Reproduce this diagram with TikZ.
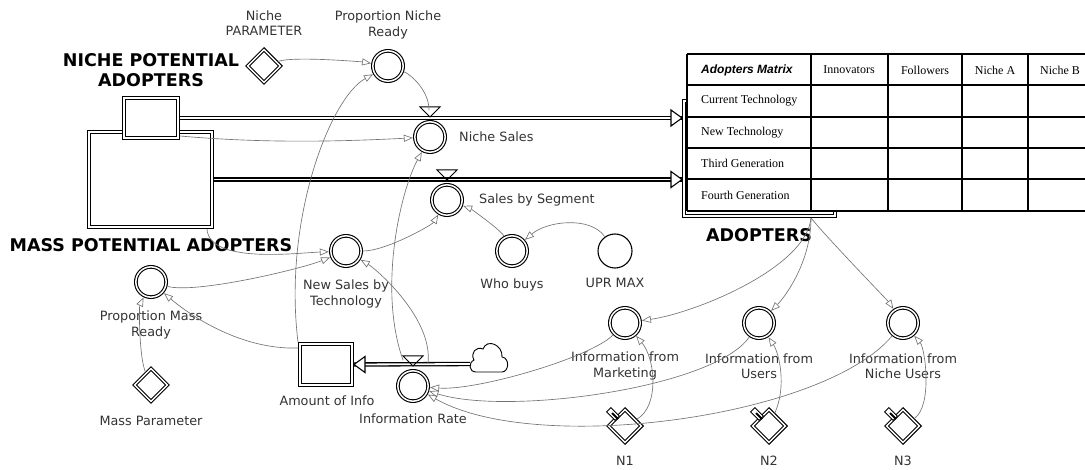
\documentclass[tikz,border=0pt]{standalone}
\usepackage{fontspec}
\setmainfont{DejaVu Sans}
\newfontfamily\tabfont{Liberation Serif}
\newfontfamily\tabhead{Liberation Sans}
\usetikzlibrary{arrows.meta,shapes.geometric,calc}

\tikzset{
  stock/.style={draw, fill=white, double, line width=1.3pt, double distance=1.8pt, inner sep=0pt, outer sep=2.2pt},
  aux/.style={circle, draw, fill=white, double, line width=1.1pt, double distance=1.5pt, minimum size=30.3pt, inner sep=0pt, outer sep=2pt},
  param/.style={diamond, draw, fill=white, double, line width=1.1pt, double distance=1.5pt, minimum size=34pt, inner sep=0pt, outer sep=1.5pt},
  lab/.style={text=black!80, font=\fontsize{12.8}{15.5}\selectfont, inner sep=0pt, align=center},
  bigtitle/.style={font=\bfseries\fontsize{17.5}{20}\selectfont, inner sep=0pt, align=center},
  cell/.style={font=\tabfont\fontsize{12}{14}\selectfont, inner sep=0pt},
  link/.style={draw=black!55, line width=0.65pt, -{Triangle[open, length=9pt, width=7pt]}},
  pipe/.style={double, line width=1.3pt, double distance=1.8pt},
  pipehead/.style={draw, fill=white, line width=1.1pt, line join=miter},
  valvetip/.style={draw, line width=1pt},
  tabline/.style={line width=1.2pt},
}

\begin{document}
\begin{tikzpicture}[x=1pt, y=-1pt]
\useasboundingbox (0,0) rectangle (1085,470);

% stocks
\node[stock, minimum width=122.6pt, minimum height=94.6pt] (massStock) at (150.5,179.5) {};
\node[stock, minimum width=53.6pt, minimum height=39.6pt] (nicheStock) at (151,118) {};
\node[stock, minimum width=150.6pt, minimum height=114.6pt] (adoptStock) at (759.5,158.5) {};
\node[stock, minimum width=51.6pt, minimum height=40.6pt] (infoStock) at (326,364.5) {};
\node[bigtitle] (nicheTitle) at (151,70) {NICHE POTENTIAL\\ADOPTERS};
\node[bigtitle] (massTitle) at (151,245) {MASS POTENTIAL ADOPTERS};
\node[bigtitle] (adoptTitle) at (759,235) {ADOPTERS};
\node[lab] (infoStockL) at (327,401) {Amount of Info};

% adopters matrix
\fill[white] (687,54) rectangle (1094,211);
\foreach \y in {54,85,117,148,179,211}
  \draw[tabline] (687,\y) -- (1094,\y);
\foreach \x in {687,811,888,962,1028,1094}
  \draw[tabline] (\x,54) -- (\x,211);
\node[cell, font=\tabhead\bfseries\itshape\fontsize{12}{14}\selectfont, anchor=west] (mtxHead) at (701,70) {Adopters Matrix};
\foreach \x/\t [count=\i] in {849/Innovators, 925/Followers, 995/Niche A, 1060/Niche B}
  \node[cell] (col\i) at (\x,70) {\t};
\foreach \y/\t [count=\i] in {101/Current Technology, 132.5/New Technology, 163.5/Third Generation, 195/Fourth Generation}
  \node[cell, anchor=west] (row\i) at (701,\y) {\t};

% flows
\coordinate (nicheIn) at (nicheStock.east -| adoptStock.west);
\coordinate (massIn) at (massStock.east -| adoptStock.west);
\coordinate (cloud) at (470,364);
\draw[pipe] (nicheStock.east) -- (nicheIn);
\draw[pipe] (massStock.east) -- (massIn);
\draw[pipe] (cloud) -- (infoStock.east);
\foreach \p in {nicheIn, massIn}
  \draw[pipehead] (\p) -- ++(-11,-8) -- ++(0,16) -- cycle;
\draw[pipehead] (infoStock.east) -- ++(11,-8) -- ++(0,16) -- cycle;
\draw[line width=0.9pt, fill=white] (476,372) -- (502,372)
  .. controls (509,372) and (510,358) .. (502,357)
  .. controls (503,345) and (487,338) .. (483,349)
  .. controls (476,346) and (470,353) .. (474,360)
  .. controls (468,363) and (469,372) .. (476,372) -- cycle;

% valves
\node[aux] (nicheSales) at (430,137) {};
\node[aux] (salesSeg) at (447,200) {};
\node[aux] (infoRate) at (413,386) {};
\foreach \v in {nicheSales, salesSeg, infoRate}
  \draw[valvetip] ($(\v)+(-10,-30)$) -- ($(\v)+(10,-30)$) -- ($(\v)+(0,-20)$) -- cycle;
\node[lab, anchor=west] (nicheSalesL) at (459,137) {Niche Sales};
\node[lab, anchor=west] (salesSegL) at (479,200) {Sales by Segment};
\node[lab] (infoRateL) at (413,419) {Information Rate};

% auxiliaries
\node[param] (nichePar) at (264,66) {};
\node[lab] (nicheParL) at (264,23) {Niche\\PARAMETER};
\node[aux] (propNiche) at (388,66) {};
\node[lab] (propNicheL) at (388,25) {Proportion Niche\\Ready};
\node[aux] (newSales) at (346,251) {};
\node[lab] (newSalesL) at (346,294) {New Sales by\\Technology};
\node[aux] (whoBuys) at (512,251) {};
\node[lab] (whoBuysL) at (512,285) {Who buys};
\node[circle, draw, line width=1.1pt, minimum size=34pt, inner sep=0pt, outer sep=1pt] (uprMax) at (615,251) {};
\node[lab] (uprMaxL) at (615,283) {UPR MAX};
\node[aux] (propMass) at (151,282) {};
\node[lab] (propMassL) at (151,325) {Proportion Mass\\Ready};
\node[param] (massPar) at (151,385) {};
\node[lab] (massParL) at (151,421) {Mass Parameter};
\node[aux] (infoMkt) at (625,323) {};
\node[lab] (infoMktL) at (625,366) {Information from\\Marketing};
\node[aux] (infoUsers) at (759,323) {};
\node[lab] (infoUsersL) at (759,366) {Information from\\Users};
\node[aux] (infoNiche) at (903,323) {};
\node[lab] (infoNicheL) at (903,366) {Information from\\Niche Users};
\foreach \i/\x in {1/625, 2/769, 3/903} {
  \node[param] (n\i) at (\x,426) {};
  \node[lab] (n\i L) at (\x,461) {N\i};
  \draw[line width=0.9pt, fill=white] ($(n\i)+(-5.6,-9.9)$) -- ($(n\i)+(-9.9,-5.6)$)
    -- ($(n\i)+(-18.4,-14.1)$) -- ($(n\i)+(-14.1,-18.4)$) -- cycle;
  \draw[line width=2pt] ($(n\i)+(-13,-13)$) -- ($(n\i)+(-7,-7)$);
}

% connectors
\coordinate (nsTip) at ($(nicheSales)+(-1,-27)$);
\coordinate (irTipL) at ($(infoRate)+(-10,-26)$);
\coordinate (irTipR) at ($(infoRate)+(15,-23)$);
\coordinate (adOut) at ($(adoptStock.south east)+(-26,0)$);
\draw[link] (nichePar) .. controls +(30,-10) and +(-25,-4) .. (propNiche);
\draw[link] (infoStock.north west) .. controls +(-15,-122) and +(-58,32) .. (propNiche);
\draw[link, -] (propNiche) .. controls +(22,8) and +(0,-20) .. (nsTip);
\draw[link] ($(nicheStock.south east)+(0,-4)$) .. controls +(90,8) and +(-80,4) .. (nicheSales);
\draw[link] ($(massStock.south east)+(-7,0)$) .. controls +(2,35) and +(-50,2) .. (newSales);
\draw[link] (propMass) .. controls +(45,12) and +(-45,18) .. (newSales);
\draw[link] (massPar) .. controls +(-12,-28) and +(-12,25) .. (propMass);
\draw[link] ($(infoStock.north west)+(0,6)$) .. controls +(-60,2) and +(35,30) .. (propMass);
\draw[link] (newSales) .. controls +(40,0) and +(-15,25) .. (salesSeg);
\draw[link] (whoBuys) .. controls +(-12,-22) and +(22,8) .. (salesSeg);
\draw[link] (uprMax) .. controls +(-25,-35) and +(35,-30) .. (whoBuys);
\draw[link] (irTipL) .. controls +(-25,-70) and +(-30,55) .. (nicheSales);
\draw[link] (irTipR) .. controls +(5,-45) and +(30,18) .. (newSales);
\draw[link] (infoMkt) .. controls +(-35,35) and +(63,5) .. (infoRate);
\draw[link] (infoUsers) .. controls +(-45,65) and +(94,30) .. (infoRate);
\draw[link] (infoNiche) .. controls +(-80,95) and +(123,70) .. (infoRate);
\draw[link] (adOut) .. controls +(-5,50) and +(70,-10) .. (infoMkt);
\draw[link] (adOut) .. controls +(0,45) and +(25,-25) .. (infoUsers);
\draw[link] (adOut) .. controls +(18,22) and +(-15,-22) .. (infoNiche);
\draw[link] (n1) .. controls +(35,-20) and +(30,35) .. (infoMkt);
\draw[link] (n2) .. controls +(18,-40) and +(20,30) .. (infoUsers);
\draw[link] (n3) .. controls +(30,-20) and +(22,25) .. (infoNiche);
\end{tikzpicture}
\end{document}
